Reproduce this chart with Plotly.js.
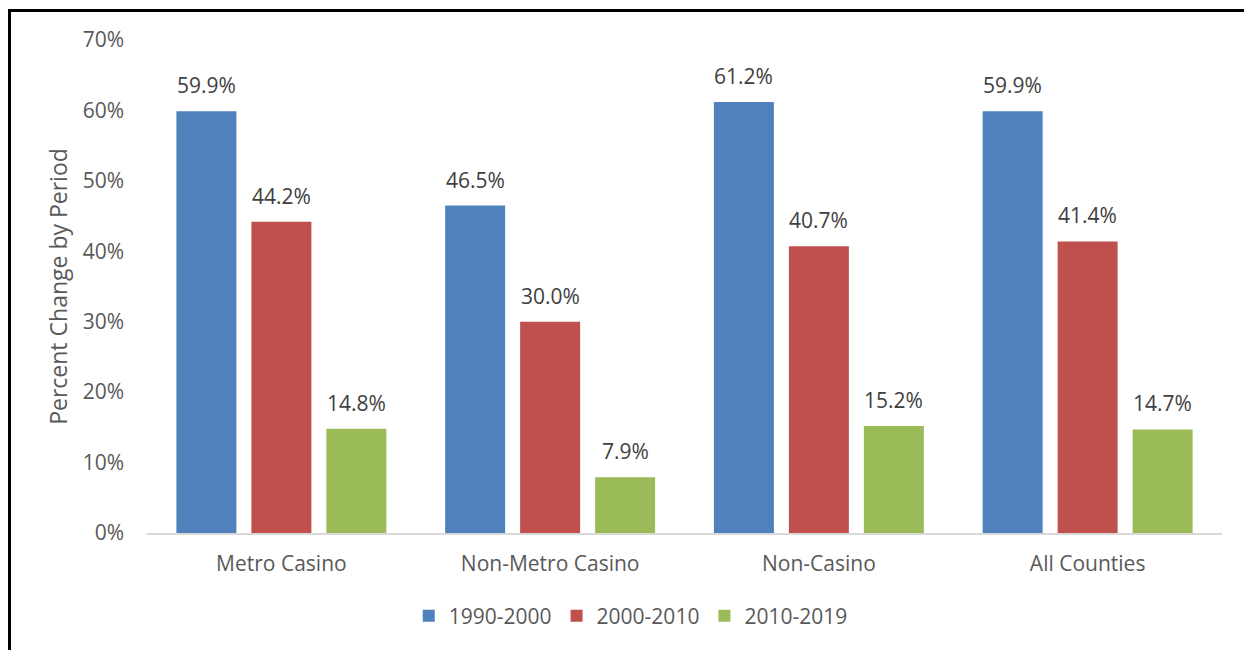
<!DOCTYPE html>
<html>
<head>
<meta charset="utf-8">
<script src="https://cdn.plot.ly/plotly-3.0.1.min.js"></script>
<style>body{margin:0;background:#fff}#chart{width:1244px;height:650px}</style>
</head>
<body>
<div id="chart"></div>
<script>
const categories = ["Metro Casino", "Non-Metro Casino", "Non-Casino", "All Counties"];
const seriesNames = ["1990-2000", "2000-2010", "2010-2019"];
const values1990 = [59.9, 46.5, 61.2, 59.9];
const values2000 = [44.2, 30.0, 40.7, 41.4];
const values2010 = [14.8, 7.9, 15.2, 14.7];
const colors = ["#4F81BD", "#C0504D", "#9BBB59"];
const yTickVals = [0, 10, 20, 30, 40, 50, 60, 70];

const allSeries = [values1990, values2000, values2010];
const font = "'Open Sans', 'Noto Sans', sans-serif";

const traces = allSeries.map((vals, i) => ({
  type: 'bar',
  name: seriesNames[i],
  x: categories,
  y: vals,
  marker: {color: colors[i]},
  hoverinfo: 'skip'
}));

const annotations = [];
allSeries.forEach((vals, i) => {
  vals.forEach((v, j) => {
    annotations.push({
      x: categories[j], y: v, xref: 'x', yref: 'y',
      text: v.toFixed(1) + '%', showarrow: false,
      xshift: (i - 1) * 75, yshift: 10, yanchor: 'bottom',
      font: {family: font, size: 21, color: '#404040'}
    });
  });
});

const L = 147, R = 1222, B = 533, T = 40;
const px2x = p => (p - L) / (R - L);
const py2y = p => (B - p) / (B - T);

const layout = {
  width: 1244, height: 650,
  margin: {l: L, r: 1244 - R, t: T, b: 650 - B},
  paper_bgcolor: '#fff', plot_bgcolor: '#fff',
  barmode: 'group', bargap: 0.163, bargroupgap: 0.2,
  font: {family: font, color: '#595959', size: 21},
  showlegend: true,
  legend: {orientation: 'h', x: 0.45, xanchor: 'center', y: py2y(616), yanchor: 'middle',
           font: {family: font, size: 21, color: '#595959'}},
  xaxis: {showgrid: false, showline: true, linecolor: '#D9D9D9', linewidth: 2,
          ticks: '', ticklabelstandoff: 11, tickfont: {size: 21, color: '#595959'}, fixedrange: true},
  yaxis: {range: [0, 70], tickvals: yTickVals, ticktext: yTickVals.map(v => v + '%'),
          showgrid: false, zeroline: false, showline: false, ticks: '', ticklabelstandoff: 22,
          tickfont: {size: 21, color: '#595959'},
          title: {text: 'Percent Change by Period', font: {size: 23, color: '#595959'}, standoff: 8},
          fixedrange: true},
  annotations: annotations,
  shapes: [
    {type: 'line', xref: 'paper', yref: 'paper', x0: px2x(9.5), x1: px2x(1244), y0: py2y(10.5), y1: py2y(10.5),
     line: {color: '#000', width: 3}},
    {type: 'line', xref: 'paper', yref: 'paper', x0: px2x(9.5), x1: px2x(9.5), y0: py2y(9), y1: py2y(650),
     line: {color: '#000', width: 3}}
  ]
};

Plotly.newPlot('chart', traces, layout, {displayModeBar: false, staticPlot: true});
</script>
</body>
</html>
